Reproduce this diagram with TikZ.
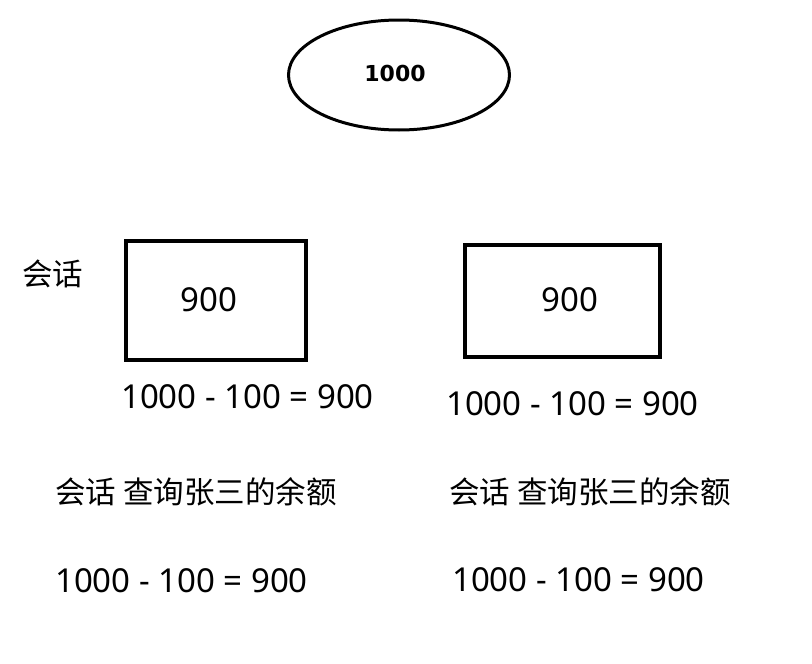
\documentclass[tikz,border=0pt]{standalone}
\usepackage{fontspec}
\setmainfont{Noto Sans}
\newfontfamily\cjk{Noto Sans CJK SC}
\newfontfamily\boldsans{DejaVu Sans}
\usetikzlibrary{shapes.geometric}
\begin{document}
\begin{tikzpicture}[x=1pt,y=-1pt,
  lbl/.style={inner sep=0pt,font=\fontsize{33}{35}\selectfont},
  cn/.style={inner sep=0pt,font=\fontsize{30.5}{32}\selectfont\cjk},
  box/.style={draw,line width=3.4pt},
  eq/.style={lbl,anchor=west}]
\useasboundingbox (0,0) rectangle (812,664);
\node[draw,ellipse,line width=3pt,minimum width=221pt,minimum height=110pt] (db) at (399,75) {};
\node[inner sep=0pt,font=\fontsize{22}{24}\selectfont\boldsans\bfseries] (dbv) at (395,73) {1000};
\node[cn] (s1) at (53,274) {会话};
\draw[box] (126,241) rectangle (306,360);
\node[lbl] (b1) at (209,300) {900};
\draw[box] (465,245) rectangle (660,357);
\node[lbl] (b2) at (570,300) {900};
\node[eq] (e1) at (121,397) {1000 - 100 = 900};
\node[eq] (e2) at (446,404) {1000 - 100 = 900};
\node[cn,anchor=west] (q1) at (55,492) {会话 查询张三的余额};
\node[cn,anchor=west] (q2) at (449,492) {会话 查询张三的余额};
\node[eq] (e3) at (55,581) {1000 - 100 = 900};
\node[eq] (e4) at (452,580) {1000 - 100 = 900};
\end{tikzpicture}
\end{document}
